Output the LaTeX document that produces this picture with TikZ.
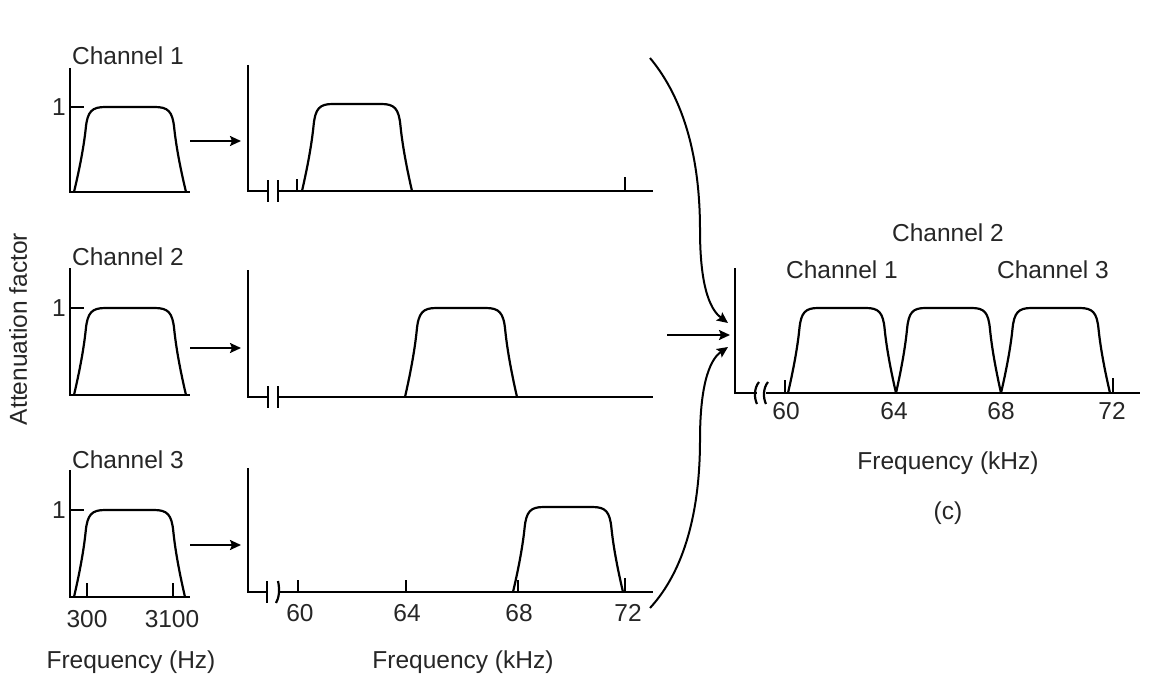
\documentclass[tikz,border=0pt]{standalone}
\usepackage{fontspec}
\setmainfont{Liberation Sans}
\usetikzlibrary{arrows.meta}
\definecolor{txt}{HTML}{262626}
\tikzset{
  axis/.style={line width=2.4pt, line cap=butt, line join=miter},
  curve/.style={line width=2.2pt, line join=round},
  tickmark/.style={line width=2.2pt},
  lbl/.style={text=txt, font=\fontsize{24.5}{28}\selectfont, inner sep=0pt},
  conn/.style={line width=2pt, -{Stealth[length=11pt,width=10pt,inset=2pt]}},
  pics/band/.style n args={2}{code={
    \draw[curve] (0,0) .. controls ({0.04*#1},{-0.22*#2}) and ({0.085*#1},{-0.5*#2}) .. ({0.105*#1},{-0.75*#2})
      .. controls ({0.12*#1},{-0.95*#2}) and ({0.16*#1},{-#2}) .. ({0.28*#1},{-#2})
      -- ({0.72*#1},{-#2})
      .. controls ({0.84*#1},{-#2}) and ({0.88*#1},{-0.95*#2}) .. ({0.895*#1},{-0.75*#2})
      .. controls ({0.915*#1},{-0.5*#2}) and ({0.96*#1},{-0.22*#2}) .. (#1,0);
  }}
}
\begin{document}
\begin{tikzpicture}[x=1pt,y=-1pt]
\useasboundingbox (0,0) rectangle (1167,690);

% ---------- left panels ----------
\draw[axis] (70,68) -- (70,192) -- (190,192);
\draw[tickmark] (70,107) -- (84,107);
\pic at (74,192) {band={112}{85}};
\node[lbl] (c1) at (128,56) {Channel 1};
\node[lbl] (one1) at (59,107) {1};

\draw[axis] (70,268) -- (70,395) -- (190,395);
\draw[tickmark] (70,308) -- (84,308);
\pic at (74,395) {band={112}{87}};
\node[lbl] (c2) at (128,257) {Channel 2};
\node[lbl] (one2) at (59,308) {1};

\draw[axis] (70,470) -- (70,597) -- (190,597);
\draw[tickmark] (70,510) -- (84,510);
\draw[tickmark] (87,597) -- (87,583);
\draw[tickmark] (173,597) -- (173,583);
\pic at (74,597) {band={111}{87}};
\node[lbl] (c3) at (128,460) {Channel 3};
\node[lbl] (one3) at (59,510) {1};
\node[lbl] (l300) at (87,619) {300};
\node[lbl] (l3100) at (172,619) {3100};
\node[lbl] (fhz) at (131,662) {Frequency (Hz)};

\node[lbl, rotate=90] (att) at (18,329) {Attenuation factor};

% small arrows
\coordinate (a1s) at (190,141); \coordinate (a1e) at (241,141);
\coordinate (a2s) at (190,348); \coordinate (a2e) at (241,348);
\coordinate (a3s) at (190,545); \coordinate (a3e) at (241,545);
\draw[conn] (a1s) -- (a1e);
\draw[conn] (a2s) -- (a2e);
\draw[conn] (a3s) -- (a3e);

% ---------- middle panels ----------
% panel 1
\draw[axis] (248,65) -- (248,191) -- (268,191);
\draw[axis] (278,191) -- (653,191);
\draw[tickmark] (268,180) -- (268,202);
\draw[tickmark] (278,180) -- (278,202);
\draw[tickmark] (297,191) -- (297,179);
\draw[tickmark] (625,191) -- (625,177);
\pic at (302,191) {band={110}{87}};

% panel 2
\draw[axis] (248,270) -- (248,397) -- (268,397);
\draw[axis] (278,397) -- (653,397);
\draw[tickmark] (268,386) -- (268,408);
\draw[tickmark] (278,386) -- (278,408);
\pic at (405,397) {band={112}{89}};

% panel 3
\draw[axis] (248,468) -- (248,592) -- (267,592);
\draw[axis] (278,592) -- (653,592);
\draw[tickmark] (267,581) -- (267,603);
\draw[tickmark] (278,581) .. controls (280,590) and (279,598) .. (276,603);
\draw[tickmark] (298,592) -- (298,580);
\draw[tickmark] (406,592) -- (406,580);
\draw[tickmark] (518,592) -- (518,580);
\draw[tickmark] (625,592) -- (625,578);
\pic at (513,592) {band={110}{85}};
\node[lbl] (m60) at (300,613) {60};
\node[lbl] (m64) at (407,613) {64};
\node[lbl] (m68) at (519,613) {68};
\node[lbl] (m72) at (628,613) {72};
\node[lbl] (fkhz1) at (463,662) {Frequency (kHz)};

% ---------- arrows into right panel ----------
\coordinate (t1) at (650,58);  \coordinate (t2) at (728,323);
\coordinate (m1) at (667,335); \coordinate (m2) at (730,335);
\coordinate (b1) at (650,608); \coordinate (b2) at (728,347);
\draw[conn] (t1) .. controls (685,100) and (700,160) .. (700,230) .. controls (700,292) and (712,311) .. (t2);
\draw[conn] (m1) -- (m2);
\draw[conn] (b1) .. controls (685,570) and (700,510) .. (700,440) .. controls (700,378) and (712,358) .. (b2);

% ---------- right panel ----------
\draw[axis] (735,268) -- (735,393) -- (757,393);
\draw[axis] (766,393) -- (1140,393);
\draw[tickmark] (759,382) .. controls (754,388) and (754,398) .. (757,404);
\draw[tickmark] (768,382) .. controls (763,388) and (763,398) .. (766,404);
\draw[tickmark] (785,393) -- (785,380);
\draw[tickmark] (1113,393) -- (1113,378);
\pic at (788,393) {band={108}{85}};
\pic at (896,393) {band={105}{85}};
\pic at (1001,393) {band={109}{85}};
\node[lbl] (r60) at (786,411) {60};
\node[lbl] (r64) at (894,411) {64};
\node[lbl] (r68) at (1001,411) {68};
\node[lbl] (r72) at (1112,411) {72};
\node[lbl] (fkhz2) at (948,463) {Frequency (kHz)};
\node[lbl] (cc) at (948,513) {(c)};
\node[lbl] (rc2) at (948,233) {Channel 2};
\node[lbl] (rc1) at (842,270) {Channel 1};
\node[lbl] (rc3) at (1053,270) {Channel 3};
\end{tikzpicture}
\end{document}
